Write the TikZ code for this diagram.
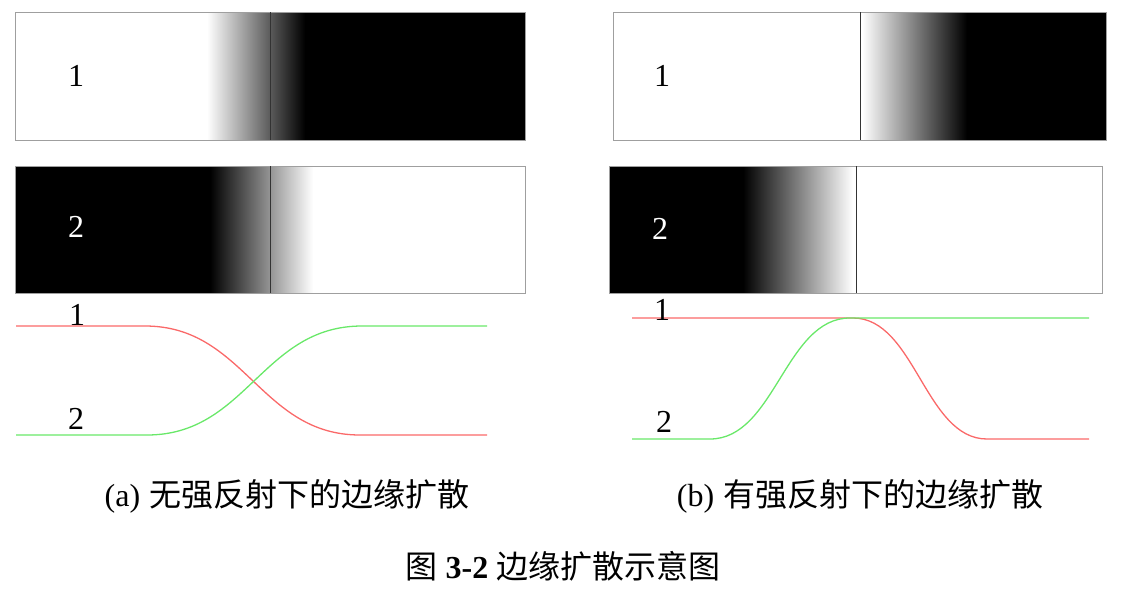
\documentclass[tikz,border=0pt]{standalone}
\usepackage{fontspec}
\setmainfont{Liberation Serif}
\newfontfamily\cjk{Noto Sans CJK SC}
\usetikzlibrary{positioning}
\definecolor{curvered}{RGB}{250,105,105}
\definecolor{curvegreen}{RGB}{105,232,105}

\begin{document}
\begin{tikzpicture}[x=1pt, y=-1pt,
    box/.style={draw=gray!75, line width=0.9pt},
    divider/.style={draw=black!80, line width=1pt},
    redline/.style={draw=curvered, line width=1.3pt},
    greenline/.style={draw=curvegreen, line width=1.3pt},
    num/.style={font=\fontsize{32}{32}\selectfont, inner sep=0pt},
    capt/.style={font=\fontsize{32}{32}\selectfont, inner sep=0pt}]
    \useasboundingbox (0,0) rectangle (1142,597);

    % (a) top strip
    \fill[black] (304,12) rectangle (525,140);
    \shade[left color=white, right color=black] (207,12) rectangle (305,140);
    \draw[box] (15,12) rectangle (525,140);
    \draw[divider] (270,12) -- (270,140);
    \node[num] (a1) at (76,76) {1};

    % (a) bottom strip
    \fill[black] (15,166) rectangle (211,293);
    \shade[left color=black, right color=white] (210,166) rectangle (313,293);
    \draw[box] (15,166) rectangle (525,293);
    \draw[divider] (270,166) -- (270,293);
    \node[num, text=white] (a2) at (76,227) {2};

    % (b) top strip
    \fill[black] (966,12) rectangle (1106,140);
    \shade[left color=white, right color=black] (862,12) rectangle (967,140);
    \draw[box] (613,12) rectangle (1106,140);
    \draw[divider] (860,12) -- (860,140);
    \node[num] (b1) at (662,76) {1};

    % (b) bottom strip
    \fill[black] (609,166) rectangle (744,293);
    \shade[left color=black, right color=white] (743,166) rectangle (853,293);
    \draw[box] (609,166) rectangle (1102,293);
    \draw[divider] (856,166) -- (856,293);
    \node[num, text=white] (b2) at (660,229) {2};

    % (a) profiles
    \draw[redline] (16,326) -- (145,326) .. controls (245,326) and (260,435) .. (360,435) -- (487,435);
    \draw[greenline] (16,435) -- (147,435) .. controls (247,435) and (262,326) .. (362,326) -- (487,326);
    \node[num] (pa1) at (77,315) {1};
    \node[num] (pa2) at (76,419) {2};

    % (b) profiles
    \draw[redline] (632,318) -- (853,318) .. controls (915,318) and (925,439) .. (987,439) -- (1089,439);
    \draw[greenline] (632,439) -- (710,439) .. controls (775,439) and (785,318) .. (850,318) -- (1089,318);
    \node[num] (pb1) at (662,310) {1};
    \node[num] (pb2) at (664,422) {2};

    % captions
    \node[capt] (capa) at (287,496) {(a)\hspace{9pt}{\cjk 无强反射下的边缘扩散}};
    \node[capt] (capb) at (860,496) {(b)\hspace{9pt}{\cjk 有强反射下的边缘扩散}};
    \node[capt] (title) at (563,566) {{\cjk 图}\hspace{8pt}\textbf{3-2}\hspace{8pt}{\cjk 边缘扩散示意图}};
\end{tikzpicture}
\end{document}
